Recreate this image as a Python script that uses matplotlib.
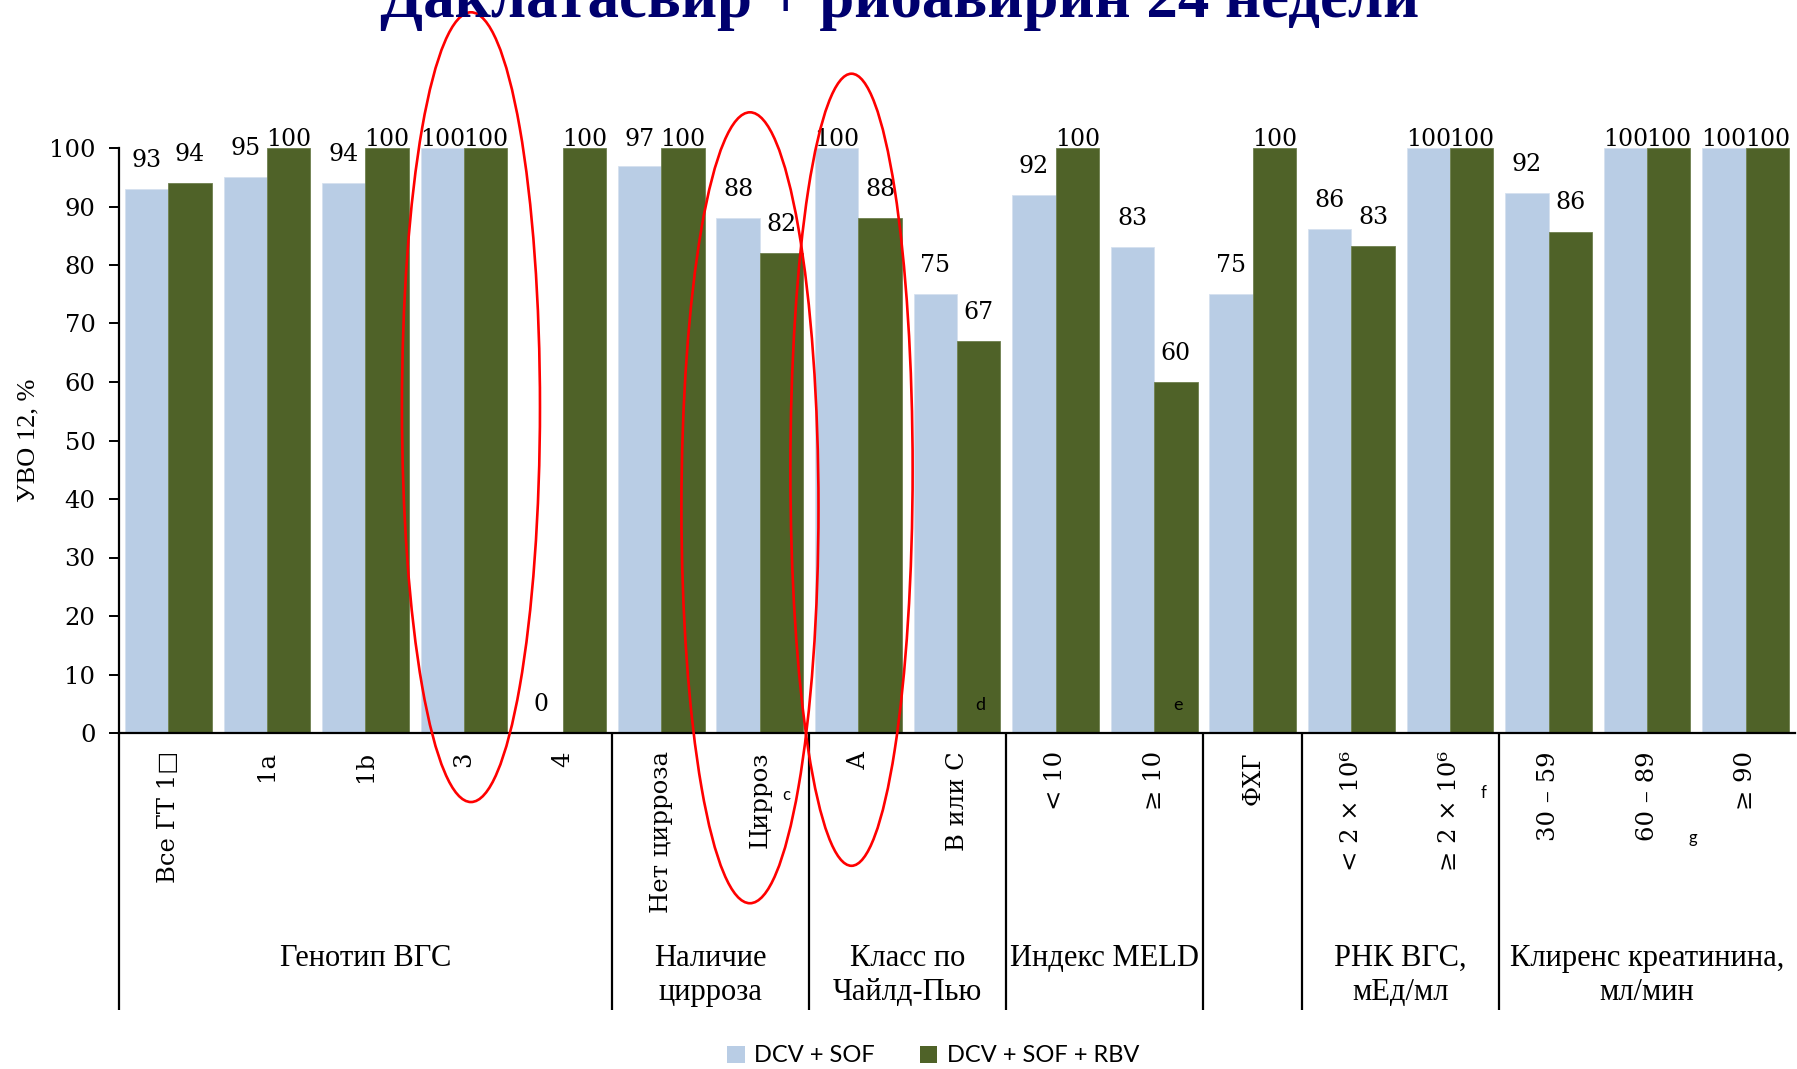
import matplotlib
matplotlib.use("Agg")
import matplotlib.pyplot as plt
from matplotlib.patches import Ellipse, Patch
from matplotlib.transforms import blended_transform_factory
import numpy as np

# ---------------- data ----------------
title = "Даклатасвир + рибавирин 24 недели"
categories = ["Все ГТ 1□", "1a", "1b", "3", "4", "Нет цирроза", "Цирроз", "А",
              "В или С", "< 10", "≥ 10", "ФХГ", "< 2 × 10⁶", "≥ 2 × 10⁶",
              "30 – 59", "60 – 89", "≥ 90"]
dcv_sof = [93, 95, 94, 100, 0, 97, 88, 100, 75, 92, 83, 75, 86.1, 100, 92.3, 100, 100]
dcv_sof_rbv = [94, 100, 100, 100, 100, 100, 82, 88, 67, 100, 60, 100, 83.3, 100, 85.7, 100, 100]
series_names = ["DCV + SOF", "DCV + SOF + RBV"]
group_names = ["Генотип ВГС", "Наличие\nцирроза", "Класс по\nЧайлд-Пью", "Индекс MELD", "",
               "РНК ВГС,\nмЕд/мл", "Клиренс креатинина,\nмл/мин"]
group_sizes = [5, 2, 2, 2, 1, 2, 3]
y_label = "УВО 12, %"
y_ticks = [0, 10, 20, 30, 40, 50, 60, 70, 80, 90, 100]

# ---------------- style ----------------
LIGHT = "#B9CDE5"
DARK = "#4F6228"
NAVY = "#00006E"
SERIF_NUM = ["DejaVu Serif", "DejaVu Sans"]
SERIF_TXT = ["Liberation Serif", "DejaVu Serif", "DejaVu Sans"]
SANS = ["Lato", "DejaVu Sans"]

W, H = 1797, 1069
fig = plt.figure(figsize=(W / 100, H / 100), dpi=100)
ax = fig.add_axes([119 / W, 1 - 733 / H, (1795 - 119) / W, 585 / H])

n = len(categories)
x = np.arange(n)
bw = 0.44
ax.bar(x - bw / 2, dcv_sof, bw, color=LIGHT, edgecolor="#D6E1EF", linewidth=0.6, zorder=2)
ax.bar(x + bw / 2, dcv_sof_rbv, bw, color=DARK, edgecolor="#6E7F4E", linewidth=0.6, zorder=2)

ax.set_xlim(-0.5, n - 0.5)
ax.set_ylim(0, 100)

# value labels
for i in range(n):
    for off, v in ((-bw / 2, dcv_sof[i]), (bw / 2, dcv_sof_rbv[i])):
        ax.text(i + off, min(v + 4.9, 101.4), f"{round(v)}", ha="center", va="center",
                fontsize=17, family=SERIF_NUM, color="black", zorder=5, clip_on=False)

# footnote letters inside bars
for i, letter in ((8, "d"), (10, "e")):
    ax.text(i + bw / 2 + 0.02, 4.8, letter, ha="center", va="center", fontsize=13,
            family=SANS, color="black", zorder=5)

# spines / ticks
for s in ("top", "right"):
    ax.spines[s].set_visible(False)
ax.spines["left"].set_linewidth(1.6)
ax.spines["bottom"].set_linewidth(1.6)
ax.set_yticks(y_ticks)
ax.tick_params(axis="y", direction="out", length=7, width=1.4, pad=10, labelsize=17.5)
for lab in ax.get_yticklabels():
    lab.set_family(SERIF_NUM)
ax.set_xticks(x)
ax.set_xticklabels(categories, rotation=90, fontsize=17.5, family=SERIF_NUM, va="top", ha="center")
ax.tick_params(axis="x", length=0, pad=13)

ax.set_ylabel(y_label, fontsize=19, family=SERIF_TXT)
ax.yaxis.set_label_coords((39 - 119) / 1676, 0.5)

# group separators & labels
tr = blended_transform_factory(ax.transData, ax.transAxes)
bounds = np.concatenate([[0], np.cumsum(group_sizes)])
for b in bounds[:-1]:
    ax.plot([b - 0.5, b - 0.5], [0, -0.4735], transform=tr, color="black", lw=1.6,
            clip_on=False, solid_capstyle="butt")
for gi, name in enumerate(group_names):
    if not name:
        continue
    center = (bounds[gi] + bounds[gi + 1] - 1) / 2
    lines = name.split("\n")
    for li, line in enumerate(lines):
        ax.text(center, -0.398 - 0.058 * li, line, transform=tr, ha="center", va="baseline",
                fontsize=22, family=SERIF_TXT, clip_on=False)

# tick-label footnotes
for xi, yi, letter in ((6.27, -0.106, "c"), (13.34, -0.103, "f"), (15.46, -0.179, "g")):
    ax.text(xi, yi, letter, transform=tr, ha="center", va="center", fontsize=12,
            family=SANS, clip_on=False)

# red ellipses
for cx, cy, ew, eh in ((3.07, 55.7, 1.40, 135.0), (5.90, 38.5, 1.39, 135.2), (6.93, 45.0, 1.24, 135.4)):
    ax.add_patch(Ellipse((cx, cy), ew, eh, fill=False, edgecolor="#FF0000", lw=1.9,
                         clip_on=False, zorder=6))

# legend
handles = [Patch(facecolor=LIGHT, edgecolor="none"), Patch(facecolor=DARK, edgecolor="none")]
leg = fig.legend(handles, series_names, loc="center", bbox_to_anchor=(933 / W, 1 - 1056 / H),
                 ncol=2, frameon=False, handlelength=0.75, handleheight=0.75, handletextpad=0.4,
                 columnspacing=1.9, prop={"family": SANS, "size": 17})

# title (partly cut off at the top, as in the reference)
t = fig.text(900 / W, 1 - 17 / H, title, ha="center", va="baseline", fontsize=42,
             fontweight="bold", family=SERIF_TXT, color=NAVY)
fig.canvas.draw()
bb = t.get_window_extent()
t.set_fontsize(42 * 1040 / bb.width)

fig.savefig("out.png", dpi=100)
